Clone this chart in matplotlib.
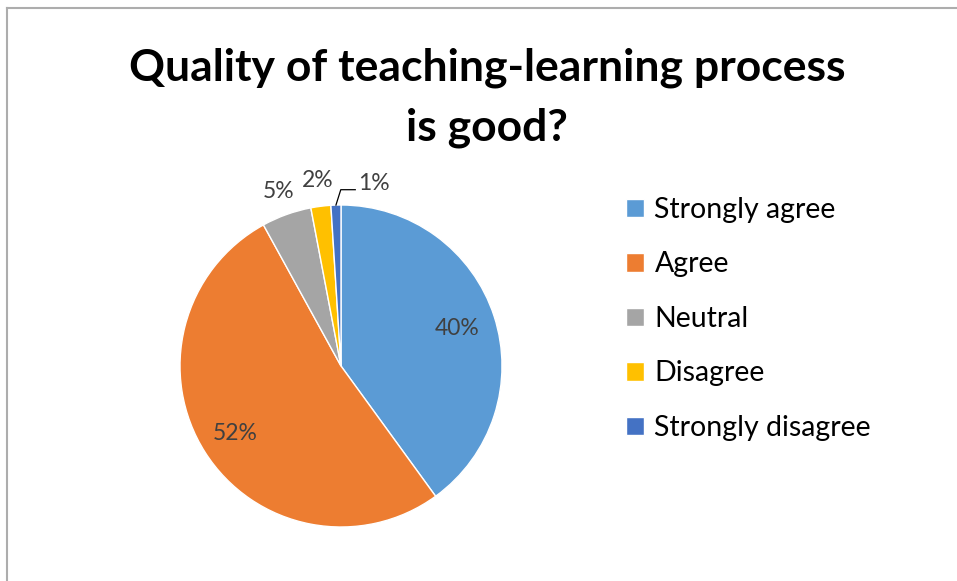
import matplotlib.pyplot as plt
import numpy as np
from matplotlib.lines import Line2D

categories = ['Strongly agree', 'Agree', 'Neutral', 'Disagree', 'Strongly disagree']
values = [40, 52, 5, 2, 1]
colors = ['#5B9BD5', '#ED7D31', '#A5A5A5', '#FFC000', '#4472C4']
title_lines = ['Quality of teaching-learning process', 'is good?']

plt.rcParams['font.family'] = ['Lato', 'DejaVu Sans']

W, H = 957, 581
fig = plt.figure(figsize=(W / 100, H / 100), dpi=100)

# chart border (only top and left visible in the reference)
fig.add_artist(Line2D([7 / W, 7 / W], [0, 1 - 7.5 / H], color='#ADADAD', lw=1.5))
fig.add_artist(Line2D([7 / W, 1], [1 - 7.5 / H, 1 - 7.5 / H], color='#ADADAD', lw=1.5))

# pie area: centre (341, 366) px, radius 161 px
cx, cy, r = 341, 366, 161
ax = fig.add_axes([(cx - r) / W, (H - cy - r) / H, 2 * r / W, 2 * r / H])
wedges, _ = ax.pie(values, colors=colors, startangle=90, counterclock=False,
                   wedgeprops=dict(linewidth=1, edgecolor='white'))
ax.set_xlim(-1, 1)
ax.set_ylim(-1, 1)
ax.set_aspect('equal')
ax.axis('off')

total = sum(values)
# label radius for each slice (inside for big ones, outside for small)
label_r = [0.76, 0.78, 1.15, 1.16, None]
for i, (w, v) in enumerate(zip(wedges, values)):
    mid = np.deg2rad((w.theta1 + w.theta2) / 2)
    txt = f'{v / total * 100:.0f}%'
    if label_r[i] is not None:
        ax.text(label_r[i] * np.cos(mid), label_r[i] * np.sin(mid), txt,
                ha='center', va='center', fontsize=16.5, color='#404040',
                clip_on=False)
    else:
        # leader line from wedge edge, then right to the label
        x0, y0 = np.cos(mid), np.sin(mid)
        ex, ey = x0 + 0.03, 1.095
        ax.plot([x0, ex, ex + 0.09], [y0, ey, ey], color='black', lw=0.9, clip_on=False)
        ax.text(ex + 0.11, ey + 0.04, txt, ha='left', va='center', fontsize=16.5,
                color='#404040', clip_on=False)

fig.text(487 / W, 1 - 80 / H, title_lines[0], ha='center', va='baseline', fontsize=32,
         fontweight='bold', color='black')
fig.text(487 / W, 1 - 140 / H, title_lines[1], ha='center', va='baseline', fontsize=32,
         fontweight='bold', color='black')

fig.legend(wedges, categories, loc='upper left', bbox_to_anchor=(626 / W, 1 - 197 / H),
           frameon=False, fontsize=20.5, handlelength=0.62, handleheight=0.62,
           handletextpad=0.38, labelspacing=1.0, borderpad=0, borderaxespad=0)

fig.savefig('out.png', dpi=100)
